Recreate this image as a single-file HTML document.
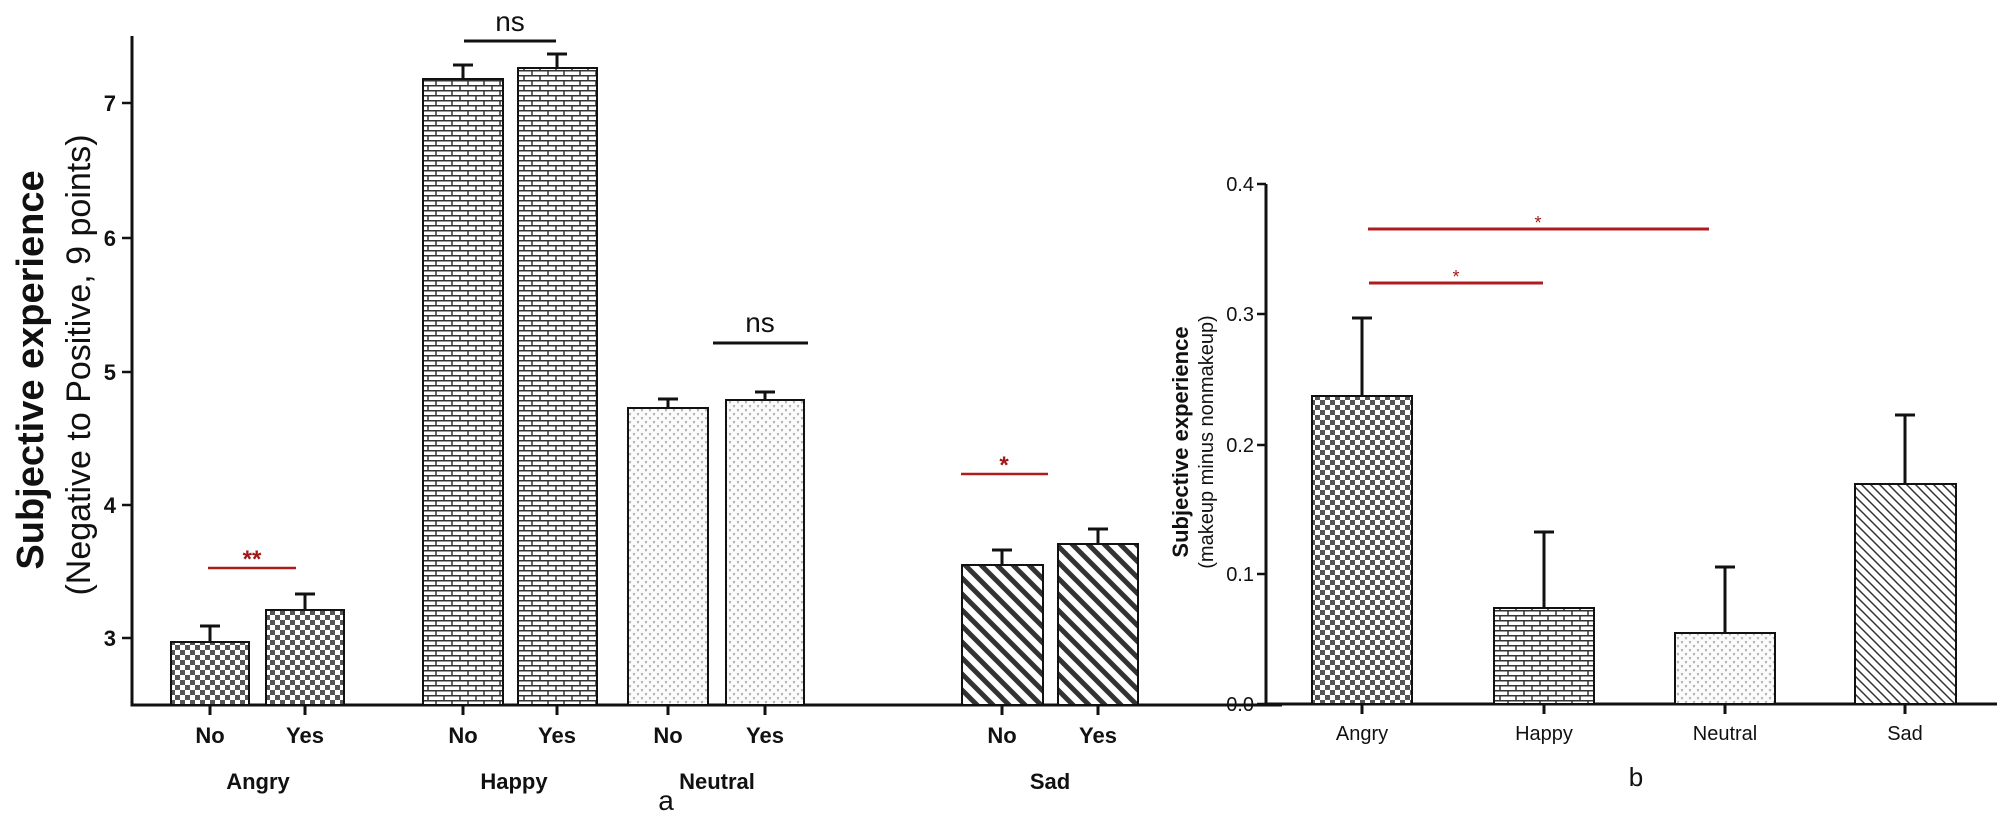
<!DOCTYPE html>
<html><head><meta charset="utf-8"><style>
html,body{margin:0;padding:0;background:#fff;}
svg{display:block;font-family:"Liberation Sans",Arial,sans-serif;}
</style></head><body>
<svg width="2007" height="839" viewBox="0 0 2007 839" xmlns="http://www.w3.org/2000/svg">
<defs>
<pattern id="chk" width="10" height="10" patternUnits="userSpaceOnUse">
<rect width="10" height="10" fill="#fff"/><rect width="5" height="5" fill="#555"/><rect x="5" y="5" width="5" height="5" fill="#555"/></pattern>
<pattern id="brick" width="16" height="10" patternUnits="userSpaceOnUse">
<rect width="16" height="10" fill="#fff"/>
<path d="M0 0.75H16M0 5.75H16M4 0V5M12 5V10" stroke="#333" stroke-width="1.5"/></pattern>
<pattern id="dots" width="8" height="8" patternUnits="userSpaceOnUse">
<rect width="8" height="8" fill="#fbfbfb"/><path d="M1 1l1 2 1-2M5 5l1 2 1-2" stroke="#999" stroke-width="0.8" fill="none"/></pattern>
<pattern id="diag" width="16" height="16" patternUnits="userSpaceOnUse">
<rect width="16" height="16" fill="#fff"/><path d="M-4 -4L20 20M-4 12L4 20M12 -4L20 4" stroke="#333" stroke-width="5"/></pattern>
<pattern id="diag2" width="9" height="9" patternUnits="userSpaceOnUse">
<rect width="9" height="9" fill="#fff"/><path d="M-2 -2L11 11M-2 7L2 11M7 -2L11 2" stroke="#333" stroke-width="1.5"/></pattern>
</defs>

<!-- LEFT CHART -->
<g stroke="#111" stroke-width="3" fill="none">
<path d="M132 36V705H1282"/>
</g>
<g stroke="#111" stroke-width="2.5">
<path d="M122 103H132M122 238H132M122 372H132M122 505H132M122 638H132"/>
</g>
<g font-size="22" font-weight="bold" text-anchor="end" fill="#111">
<text x="116" y="111">7</text><text x="116" y="246">6</text><text x="116" y="380">5</text><text x="116" y="513">4</text><text x="116" y="646">3</text>
</g>
<text transform="translate(43,370) rotate(-90)" text-anchor="middle" font-size="38" font-weight="bold" fill="#111">Subjective experience</text>
<text transform="translate(90,365) rotate(-90)" text-anchor="middle" font-size="34" fill="#111">(Negative to Positive, 9 points)</text>

<!-- bars left -->
<g stroke="#111" stroke-width="2">
<rect x="171" y="642" width="78" height="63" fill="url(#chk)"/>
<rect x="266" y="610" width="78" height="95" fill="url(#chk)"/>
<rect x="423" y="79" width="80" height="626" fill="url(#brick)"/>
<rect x="518" y="68" width="79" height="637" fill="url(#brick)"/>
<rect x="628" y="408" width="80" height="297" fill="url(#dots)"/>
<rect x="726" y="400" width="78" height="305" fill="url(#dots)"/>
<rect x="962" y="565" width="81" height="140" fill="url(#diag)"/>
<rect x="1058" y="544" width="80" height="161" fill="url(#diag)"/>
</g>
<g stroke="#111" stroke-width="3">
<path d="M210 642V626M200 626H220"/>
<path d="M305 610V594M295 594H315"/>
<path d="M463 79V65M453 65H473"/>
<path d="M557 68V54M547 54H567"/>
<path d="M668 408V399M658 399H678"/>
<path d="M765 400V392M755 392H775"/>
<path d="M1002 565V550M992 550H1012"/>
<path d="M1098 544V529M1088 529H1108"/>
<path d="M210 705V715M305 705V715M463 705V715M557 705V715M668 705V715M765 705V715M1002 705V715M1098 705V715"/>
</g>
<!-- significance -->
<path d="M208 568H296" stroke="#b01c1c" stroke-width="2.5"/>
<text x="252" y="567" text-anchor="middle" font-size="24" font-weight="bold" fill="#a01818">**</text>
<path d="M464 41H556" stroke="#111" stroke-width="3"/>
<text x="510" y="31" text-anchor="middle" font-size="28" fill="#111">ns</text>
<path d="M713 343H808" stroke="#111" stroke-width="3"/>
<text x="760" y="332" text-anchor="middle" font-size="28" fill="#111">ns</text>
<path d="M961 474H1048" stroke="#b01c1c" stroke-width="2.5"/>
<text x="1004" y="473" text-anchor="middle" font-size="24" font-weight="bold" fill="#a01818">*</text>
<g font-size="22" font-weight="bold" text-anchor="middle" fill="#111">
<text x="210" y="743">No</text><text x="305" y="743">Yes</text>
<text x="463" y="743">No</text><text x="557" y="743">Yes</text>
<text x="668" y="743">No</text><text x="765" y="743">Yes</text>
<text x="1002" y="743">No</text><text x="1098" y="743">Yes</text>
<text x="258" y="789">Angry</text><text x="514" y="789">Happy</text>
<text x="717" y="789">Neutral</text><text x="1050" y="789">Sad</text>
</g>
<text x="666" y="810" text-anchor="middle" font-size="28" fill="#111">a</text>

<!-- RIGHT CHART -->
<path d="M1266 184V704H1997" stroke="#111" stroke-width="3" fill="none"/>
<g stroke="#111" stroke-width="2.5">
<path d="M1257 184H1266M1257 314H1266M1257 445H1266M1257 574H1266M1257 704H1266"/>
</g>
<g font-size="20" text-anchor="end" fill="#111">
<text x="1254" y="191">0.4</text><text x="1254" y="321">0.3</text><text x="1254" y="452">0.2</text><text x="1254" y="581">0.1</text><text x="1254" y="711">0.0</text>
</g>
<text transform="translate(1188,442) rotate(-90)" text-anchor="middle" font-size="22" font-weight="bold" fill="#111">Subjective experience</text>
<text transform="translate(1213,442) rotate(-90)" text-anchor="middle" font-size="20" fill="#111">(makeup minus nonmakeup)</text>
<g stroke="#111" stroke-width="2">
<rect x="1312" y="396" width="100" height="308" fill="url(#chk)"/>
<rect x="1494" y="608" width="100" height="96" fill="url(#brick)"/>
<rect x="1675" y="633" width="100" height="71" fill="url(#dots)"/>
<rect x="1855" y="484" width="101" height="220" fill="url(#diag2)"/>
</g>
<g stroke="#111" stroke-width="3">
<path d="M1362 396V318M1352 318H1372"/>
<path d="M1544 608V532M1534 532H1554"/>
<path d="M1725 633V567M1715 567H1735"/>
<path d="M1905 484V415M1895 415H1915"/>
<path d="M1362 704V714M1544 704V714M1725 704V714M1905 704V714"/>
</g>
<path d="M1369 283H1543" stroke="#b01c1c" stroke-width="3"/>
<text x="1456" y="283" text-anchor="middle" font-size="18" fill="#a01818">*</text>
<path d="M1368 229H1709" stroke="#b01c1c" stroke-width="3"/>
<text x="1538" y="229" text-anchor="middle" font-size="18" fill="#a01818">*</text>
<g font-size="20" text-anchor="middle" fill="#111">
<text x="1362" y="740">Angry</text><text x="1544" y="740">Happy</text><text x="1725" y="740">Neutral</text><text x="1905" y="740">Sad</text>
</g>
<text x="1636" y="786" text-anchor="middle" font-size="26" fill="#111">b</text>
</svg>
</body></html>
